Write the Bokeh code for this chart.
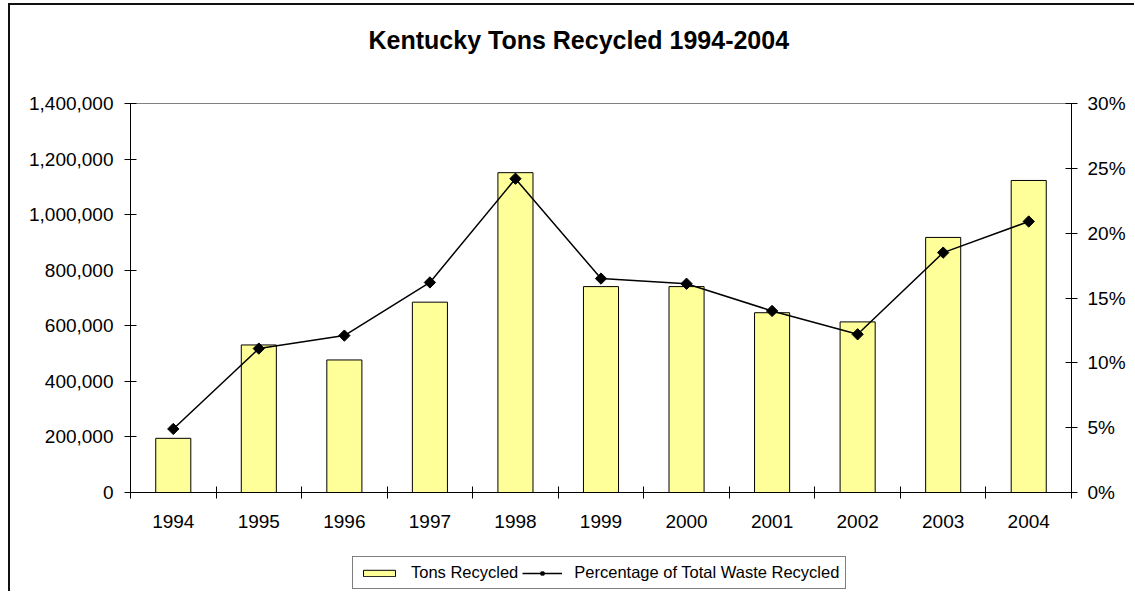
from bokeh.plotting import figure
from bokeh.layouts import column
from bokeh.models import (Range1d, LinearAxis, FixedTicker, NumeralTickFormatter,
                          PrintfTickFormatter, Legend, LegendItem, ColumnDataSource,
                          CustomJSTickFormatter, Title)
from bokeh.embed import file_html
from bokeh.resources import INLINE

# ---- data ----
years = ["1994", "1995", "1996", "1997", "1998", "1999", "2000", "2001", "2002", "2003", "2004"]
tons_recycled = [195000, 531000, 477000, 685000, 1151000, 741000, 741000, 647000, 614000, 918000, 1123000]
pct_recycled = [4.9, 11.1, 12.1, 16.2, 24.2, 16.5, 16.1, 14.0, 12.2, 18.5, 20.9]
left_ticks = [0, 200000, 400000, 600000, 800000, 1000000, 1200000, 1400000]
right_ticks = [0, 5, 10, 15, 20, 25, 30]

FONT = "Liberation Sans"
BAR_FILL = "#FFFF99"

xc = [i + 0.5 for i in range(len(years))]
src = ColumnDataSource(dict(x=xc, tons=tons_recycled, pct=pct_recycled, year=years))

W = 1124
H1 = 535
H2 = 51

p = figure(width=W, height=H1, x_range=Range1d(0, len(years)), y_range=Range1d(0, 1400000),
           output_backend="svg", toolbar_location=None,
           min_border_left=120, min_border_right=63, min_border_top=98, min_border_bottom=H1 - 487)

p.title.text = "Kentucky Tons Recycled 1994-2004"
p.title.align = "left"
p.title.offset = 238
p.title.text_font = FONT
p.title.text_font_size = "25px"
p.title.text_font_style = "bold"
p.title.text_color = "black"

# spacer between the frame and the title
p.add_layout(Title(text=" ", text_font_size="30px"), "above")

p.xgrid.visible = False
p.ygrid.visible = False
p.outline_line_color = "#808080"
p.background_fill_color = "white"
p.border_fill_color = "white"

p.extra_y_ranges = {"pct": Range1d(0, 30)}

bars = p.vbar(x="x", top="tons", width=0.41, source=src, fill_color=BAR_FILL,
              line_color="black", line_width=1)
line = p.line(x="x", y="pct", source=src, y_range_name="pct", line_color="black", line_width=1.5)
marks = p.scatter(x="x", y="pct", source=src, y_range_name="pct", marker="square",
                  angle=0.7853981634, size=8, fill_color="black", line_color="black")

# x axis: labels at centres, tick marks at category boundaries
xa = p.xaxis[0]
xa.ticker = FixedTicker(ticks=xc, minor_ticks=list(range(len(years) + 1)))
xa.formatter = CustomJSTickFormatter(args=dict(labels=years), code="return labels[Math.floor(tick)];")
xa.major_tick_line_color = None
xa.minor_tick_line_color = "black"
xa.minor_tick_in = 6
xa.minor_tick_out = 6
xa.axis_line_color = "black"
xa.major_label_standoff = 16
xa.major_label_text_font = FONT
xa.major_label_text_font_size = "19px"
xa.major_label_text_color = "black"

ya = p.yaxis[0]
ya.ticker = FixedTicker(ticks=left_ticks)
ya.formatter = NumeralTickFormatter(format="0,0")
ya.major_tick_in = 6
ya.major_tick_out = 6
ya.minor_tick_line_color = None
ya.axis_line_color = "black"
ya.major_label_standoff = 11
ya.major_label_text_font = FONT
ya.major_label_text_font_size = "19px"
ya.major_label_text_color = "black"

ra = LinearAxis(y_range_name="pct", ticker=FixedTicker(ticks=right_ticks),
                formatter=PrintfTickFormatter(format="%d%%"))
ra.major_tick_in = 6
ra.major_tick_out = 6
ra.minor_tick_line_color = None
ra.axis_line_color = "black"
ra.major_label_standoff = 10
ra.major_label_text_font = FONT
ra.major_label_text_font_size = "19px"
ra.major_label_text_color = "black"
p.add_layout(ra, "right")

# ---- legend strip (separate figure; its renderers are hidden, only legend swatches show) ----
q = figure(width=W, height=H2, x_range=Range1d(0, 1), y_range=Range1d(0, 1),
           output_backend="svg", toolbar_location=None, x_axis_type=None, y_axis_type=None,
           min_border_left=0, min_border_right=0, min_border_top=0, min_border_bottom=0)
q.xgrid.visible = False
q.ygrid.visible = False
q.outline_line_color = None
q.background_fill_color = "white"
q.border_fill_color = "white"
lb = q.vbar(x="x", top="tons", width=0.41, source=src, fill_color=BAR_FILL,
            line_color="black", line_width=1, visible=False)
ll = q.line(x="x", y="pct", source=src, line_color="black", line_width=1.5, visible=False)
lm = q.scatter(x="x", y="pct", source=src, marker="square", angle=0.7853981634,
               size=8, fill_color="black", line_color="black", visible=False)

legend = Legend(items=[LegendItem(label="Tons Recycled", renderers=[lb]),
                       LegendItem(label="Percentage of Total Waste Recycled", renderers=[ll, lm])],
                orientation="horizontal", location=(222, 2))
legend.label_text_font = FONT
legend.label_text_font_size = "16.5px"
legend.label_text_color = "black"
legend.glyph_width = 40
legend.glyph_height = 8
legend.label_height = 18
legend.label_standoff = 12
legend.spacing = 4
legend.padding = 6
legend.margin = 0
legend.border_line_color = "black"
legend.border_line_width = 1
legend.background_fill_color = "white"
legend.background_fill_alpha = 1
legend.inactive_fill_alpha = 0
q.add_layout(legend, "center")

page = column(p, q, spacing=0, margin=(3, 0, 0, 8),
              styles={"border-top": "2px solid #111", "border-left": "2px solid #111"})

open("out.html", "w").write(file_html(page, INLINE))
